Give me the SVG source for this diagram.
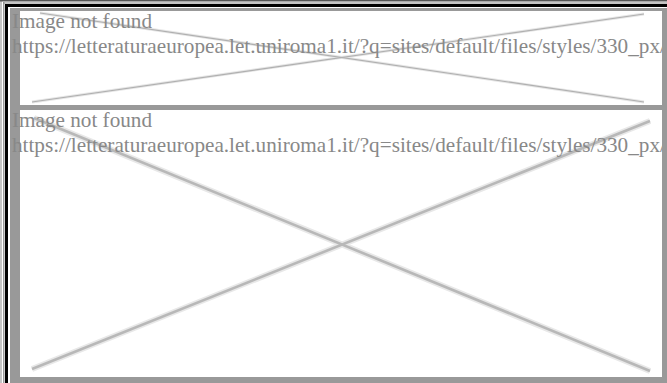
<svg xmlns="http://www.w3.org/2000/svg" width="667" height="383" viewBox="0 0 667 383">
<style>
.msg{font-family:"Liberation Serif","Times New Roman",serif;font-size:21.2px;fill:#888888}
.x1{stroke:#e6e6e6;stroke-width:3;fill:none}
.x1c{stroke:#b0b0b0;stroke-width:1.2;fill:none}
.x2{stroke:#e8e8e8;stroke-width:6;fill:none}
.x2c{stroke:#b8b8b8;stroke-width:2.6;fill:none}
</style>
<defs>
<clipPath id="c1"><rect x="0" y="11" width="662" height="94"/></clipPath>
<clipPath id="c2"><rect x="0" y="110" width="662" height="267"/></clipPath>
</defs>
<rect x="0" y="0" width="667" height="383" fill="#ffffff"/>
<g id="frame">
<rect x="0" y="0" width="2" height="383" fill="#c4c4c4"/>
<rect x="3" y="2" width="1.5" height="381" fill="#9a9a9a"/>
<rect x="0" y="0" width="667" height="1.5" fill="#555555"/>
<rect x="3" y="2.5" width="664" height="1" fill="#8a8a8a"/>
<rect x="5" y="4" width="662" height="3" fill="#000000"/>
<rect x="5" y="4" width="3" height="379" fill="#000000"/>
<rect x="10" y="8" width="657" height="375" fill="#999999"/>
</g>
<g id="panel1">
<rect x="20" y="11" width="642" height="94" fill="#ffffff"/>
<g clip-path="url(#c1)">
<line class="x1" x1="40" y1="13" x2="644" y2="102"/>
<line class="x1" x1="32" y1="102" x2="644" y2="14"/>
<line class="x1c" x1="40" y1="13" x2="644" y2="102"/>
<line class="x1c" x1="32" y1="102" x2="644" y2="14"/>
<text class="msg" x="12" y="28">Image not found</text>
<text class="msg" x="12" y="53">https://letteraturaeuropea.let.uniroma1.it/?q=sites/default/files/styles/330_px/</text>
</g>
</g>
<g id="panel2">
<rect x="20" y="110" width="642" height="267" fill="#ffffff"/>
<g clip-path="url(#c2)">
<line class="x2" x1="34" y1="118" x2="650" y2="371"/>
<line class="x2" x1="32" y1="369" x2="650" y2="121"/>
<line class="x2c" x1="34" y1="118" x2="650" y2="371"/>
<line class="x2c" x1="32" y1="369" x2="650" y2="121"/>
<text class="msg" x="12" y="127">Image not found</text>
<text class="msg" x="12" y="152">https://letteraturaeuropea.let.uniroma1.it/?q=sites/default/files/styles/330_px/</text>
</g>
</g>
</svg>
